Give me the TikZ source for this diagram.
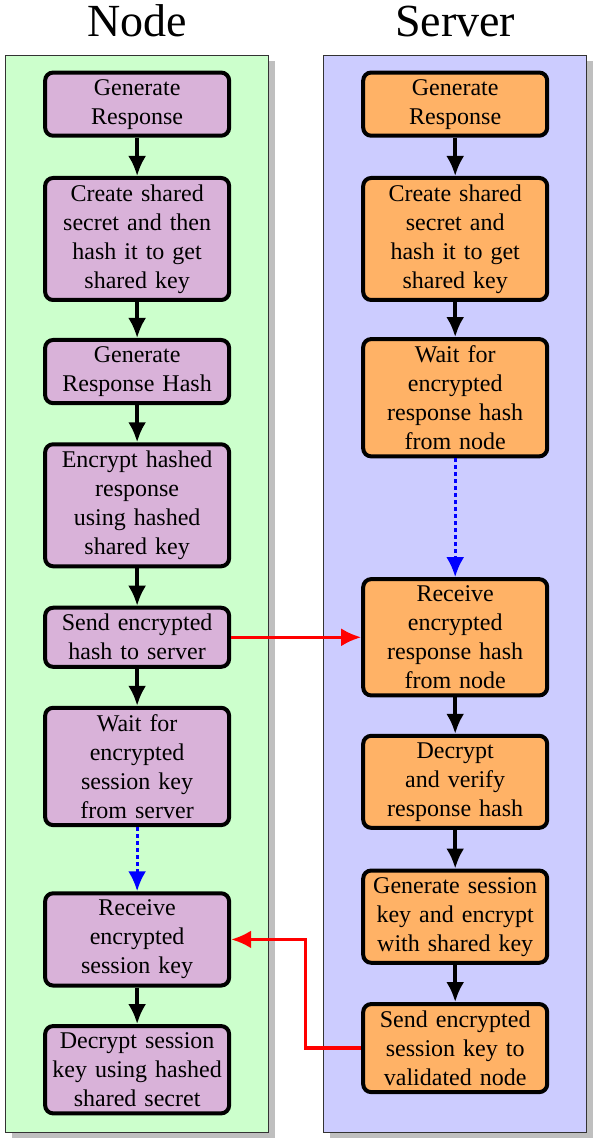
\documentclass[tikz,border=0pt]{standalone}
\usepackage{fontspec}
\setmainfont{Liberation Serif}
\usetikzlibrary{shadows,arrows.meta}
\begin{document}
\begin{tikzpicture}[
		lane/.style={draw=black!80,line width=0.5pt,minimum width=4.62cm,minimum height=18.93cm,inner sep=0pt,drop shadow={shadow xshift=3pt,shadow yshift=-3pt,fill=black!25,opacity=1}},
		stepnode/.style={draw,line width=2pt,rounded corners=4pt,fill=violet!30,text width=88pt,inner xsep=2pt,inner ysep=3.3pt,align=center,font=\fontsize{12}{14.5}\selectfont},
		stepserver/.style={stepnode,fill=orange!60},
		flow/.style={-{Latex[length=10pt,width=9pt]},line width=1.8pt},
		idle/.style={-{Latex[length=10pt,width=9pt]},line width=1.6pt,blue,dash pattern=on 2pt off 1.5pt},
		msg/.style={-{Latex[length=10pt,width=9pt]},line width=1.7pt,red},
		title/.style={anchor=base,font=\fontsize{23}{27}\selectfont}
	]
		\useasboundingbox (0,0) rectangle (10.51,-20.0);
		\begin{scope}[shift={(2.41,0)}]
			\node[title] (nodetitle) at (0,-0.65) {Node};
			\node[lane,fill=green!20] (nodelane) at (0,-10.44) {};
			\node[stepnode] (ngen) at (0,-1.83) {Generate\\ Response};
			\node[stepnode] (nkey) at (0,-4.20) {Create shared\\ secret and then\\ hash it to get\\ shared key};
			\node[stepnode] (nhash) at (0,-6.53) {Generate\\ Response Hash};
			\node[stepnode] (nenc) at (0,-8.88) {Encrypt hashed\\ response\\ using hashed\\ shared key};
			\node[stepnode] (nsend) at (0,-11.20) {Send encrypted\\ hash to server};
			\node[stepnode] (nwait) at (0,-13.47) {Wait for\\ encrypted\\ session key\\ from server};
			\node[stepnode] (nrecv) at (0,-16.51) {Receive\\ encrypted\\ session key};
			\node[stepnode] (ndec) at (0,-18.80) {Decrypt session\\ key using hashed\\ shared secret};
			\foreach \a/\b in {ngen/nkey,nkey/nhash,nhash/nenc,nenc/nsend,nsend/nwait,nrecv/ndec}{
				\draw[flow] (\a) -- (\b);
			}
			\draw[idle] (nwait) -- (nrecv);
		\end{scope}
		\begin{scope}[shift={(8.00,0)}]
			\node[title] (servertitle) at (0,-0.65) {Server};
			\node[lane,fill=blue!20] (serverlane) at (0,-10.44) {};
			\node[stepserver] (sgen) at (0,-1.83) {Generate\\ Response};
			\node[stepserver] (skey) at (0,-4.20) {Create shared\\ secret and\\ hash it to get\\ shared key};
			\node[stepserver] (swait) at (0,-6.99) {Wait for\\ encrypted\\ response hash\\ from node};
			\node[stepserver] (srecv) at (0,-11.20) {Receive\\ encrypted\\ response hash\\ from node};
			\node[stepserver] (sver) at (0,-13.74) {Decrypt\\ and verify\\ response hash};
			\node[stepserver] (ssess) at (0,-16.11) {Generate session\\ key and encrypt\\ with shared key};
			\node[stepserver] (ssend) at (0,-18.42) {Send encrypted\\ session key to\\ validated node};
			\foreach \a/\b in {sgen/skey,skey/swait,srecv/sver,sver/ssess,ssess/ssend}{
				\draw[flow] (\a) -- (\b);
			}
			\draw[idle] (swait) -- (srecv);
		\end{scope}
		\draw[msg] (nsend) -- (srecv);
		\draw[msg] (ssend.west) -- ++(-0.98,0) |- (nrecv.east);
	\end{tikzpicture}
\end{document}
